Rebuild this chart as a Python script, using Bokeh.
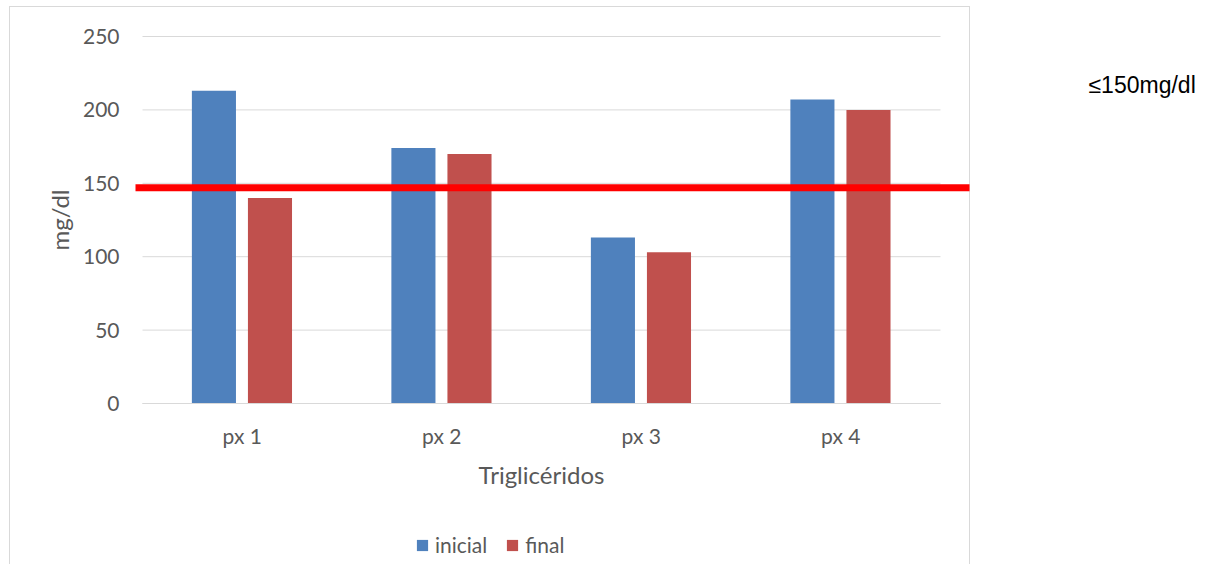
import math
from bokeh.plotting import figure
from bokeh.models import (Range1d, Label, Legend, LegendItem, ColumnDataSource,
                          FixedTicker, CustomJSTickFormatter)
from bokeh.transform import dodge
from bokeh.embed import file_html
from bokeh.resources import INLINE

# ---- data ----
categories = ["px 1", "px 2", "px 3", "px 4"]
inicial = [213, 174, 113, 207]
final = [140, 170, 103, 200]
series_names = ["inicial", "final"]
y_ticks = [0, 50, 100, 150, 200, 250]
limit_value = 147
limit_text = "≤150mg/dl"
x_title = "Triglicéridos"
y_title = "mg/dl"

# ---- layout constants (canvas px) ----
W, H = 1202, 564
PLOT_L, PLOT_R = 142, 940      # category area
TOP, BOTTOM = 36, 403          # y = 250 .. y = 0
LINE_L, LINE_R = 135, 969      # red line extent / chart border right
n = len(categories)
ux = (PLOT_R - PLOT_L) / n
uy = (BOTTOM - TOP) / (y_ticks[-1] - y_ticks[0])
def dx(px): return (px - PLOT_L) / ux       # canvas px -> x data
def dy(py): return (BOTTOM - py) / uy       # canvas px -> y data

FONT = "Lato"
GREY = "#595959"
GRID = "#d9d9d9"

p = figure(x_range=Range1d(dx(0), dx(W)), y_range=Range1d(dy(H), dy(0)),
           frame_width=W, frame_height=H,
           min_border_left=0, min_border_right=0, min_border_top=0, min_border_bottom=0,
           output_backend="svg", toolbar_location=None)
p.border_fill_alpha = 0
p.background_fill_alpha = 0
p.outline_line_color = None
p.xgrid.visible = False
p.ygrid.visible = False
# light grey chart-area border (CSS background behind the transparent canvas)
p.styles = {
    "background-color": "white",
    "background-image": ", ".join([f"linear-gradient({GRID},{GRID})"] * 3),
    "background-size": "961px 1px, 1px 700px, 1px 700px",
    "background-position": "9px 6px, 9px 6px, 969px 6px",
    "background-repeat": "no-repeat",
}

# horizontal grid lines over the category area
p.segment(x0=0, x1=n, y0=y_ticks, y1=y_ticks, line_color=GRID, line_width=1)

xs = [i + 0.5 for i in range(n)]
src = ColumnDataSource(dict(x=xs, inicial=inicial, final=final))
r1 = p.vbar(x=dodge("x", -0.142), top="inicial", width=0.221,
            source=src, fill_color="#4F81BD", line_color=None)
r2 = p.vbar(x=dodge("x", 0.139), top="final", width=0.221,
            source=src, fill_color="#C0504D", line_color=None)

# axes drawn at fixed positions inside the canvas
p.yaxis.ticker = FixedTicker(ticks=y_ticks)
p.xaxis.ticker = FixedTicker(ticks=xs)
p.xaxis.formatter = CustomJSTickFormatter(args=dict(cats=categories),
                                          code="return cats[Math.floor(tick)];")
for ax in (p.xaxis[0], p.yaxis[0]):
    ax.major_tick_line_color = None
    ax.minor_tick_line_color = None
    ax.major_tick_in = 0
    ax.major_tick_out = 0
    ax.minor_tick_in = 0
    ax.minor_tick_out = 0
    ax.major_label_text_font = FONT
    ax.major_label_text_font_size = "21px"
    ax.major_label_text_color = GREY
p.yaxis.axis_line_color = None
p.yaxis.fixed_location = dx(LINE_L)
p.yaxis.bounds = (y_ticks[0], y_ticks[-1])
p.yaxis.major_label_standoff = 16
p.xaxis.axis_line_color = GRID
p.xaxis.fixed_location = 0
p.xaxis.bounds = (0, n)
p.xaxis.major_label_standoff = 19

# axis titles
p.add_layout(Label(x=dx(59), y=(y_ticks[0] + y_ticks[-1]) / 2, text=y_title, angle=math.pi / 2,
                   text_font=FONT, text_font_size="24px", text_color=GREY,
                   text_align="center", text_baseline="middle"))
p.add_layout(Label(x=n / 2, y=dy(474), text=x_title,
                   text_font=FONT, text_font_size="24px", text_color=GREY,
                   text_align="center", text_baseline="middle"))

# threshold line
p.segment(x0=[dx(LINE_L)], x1=[dx(LINE_R)], y0=[limit_value], y1=[limit_value],
          line_color="#ff0000", line_width=7, line_cap="butt")

# threshold text at the right
p.add_layout(Label(x=dx(1088), y=dy(84), text=limit_text,
                   text_font="Liberation Sans", text_font_size="23px",
                   text_baseline="middle", text_align="left", text_color="black"))

# series legend below
legend = Legend(items=[LegendItem(label=series_names[0], renderers=[r1]),
                       LegendItem(label=series_names[1], renderers=[r2])],
                orientation="horizontal", location=(415, 7),
                glyph_width=14, glyph_height=14, label_standoff=6, spacing=18,
                padding=0, margin=0, border_line_color=None,
                background_fill_alpha=0,
                label_text_font=FONT, label_text_font_size="21px",
                label_text_color=GREY)
p.add_layout(legend)

open("out.html", "w").write(file_html(p, INLINE))
